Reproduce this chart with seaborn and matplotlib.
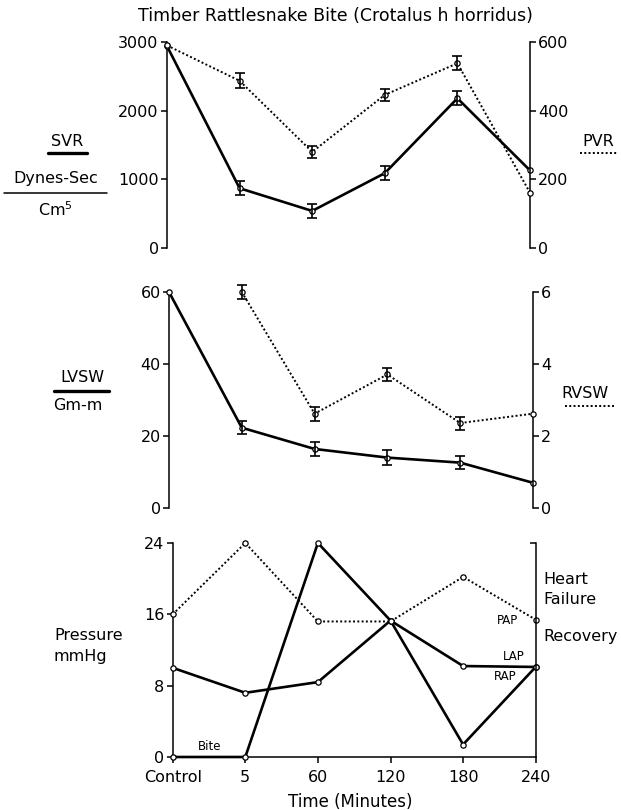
import numpy as np
import pandas as pd
import matplotlib
matplotlib.use("Agg")
import matplotlib.pyplot as plt
import seaborn as sns
from matplotlib.lines import Line2D

# ---------------- data ----------------
time_labels = ["Control", "5", "60", "120", "180", "240"]

svr = [2940, 870, 540, 1090, 2180, 1130]
svr_err = [0, 100, 100, 100, 100, 0]
pvr = [590, 487, 280, 446, 538, 161]
pvr_err = [0, 22, 17, 18, 20, 0]

lvsw = [60, 22.3, 16.4, 14.0, 12.6, 7.0]
lvsw_err = [0, 1.85, 1.85, 2.0, 1.85, 0]
rvsw = [np.nan, 6.0, 2.62, 3.71, 2.36, 2.62]
rvsw_err = [0, 0.19, 0.19, 0.19, 0.18, 0]

pap = [16, 24, 15.2, 15.2, 20.2, 15.4]
lap = [10, 7.2, 8.4, 15.3, 10.2, 10.1]
rap = [0, 0, 24, 15.3, 1.4, 10.1]

svr_ticks = [0, 1000, 2000, 3000]
pvr_ticks = [0, 200, 400, 600]
lvsw_ticks = [0, 20, 40, 60]
rvsw_ticks = [0, 2, 4, 6]
press_ticks = [0, 8, 16, 24]

# ---------------- style ----------------
sns.set_style("ticks")
plt.rcParams["font.family"] = ["DejaVu Sans"]
plt.rcParams["axes.linewidth"] = 1.1
for k in ["text.color", "axes.labelcolor", "xtick.color", "ytick.color", "axes.edgecolor"]:
    plt.rcParams[k] = "black"

W, H = 621, 810
fig = plt.figure(figsize=(W / 100, H / 100), dpi=100)


def fx(px):
    return px / W


def fy(py):
    return 1 - py / H


def make_axes(left, right, top, bottom):
    return fig.add_axes([fx(left), fy(bottom), fx(right) - fx(left), fy(top) - fy(bottom)])


xpos = np.arange(len(time_labels))
SOLID = dict(linewidth=1.9, linestyle="-")
DOT = dict(linewidth=1.4, linestyle=(0, (1, 1.2)))


def draw(ax, vals, errs, style):
    vals = np.asarray(vals, dtype=float)
    df = pd.DataFrame({"t": xpos, "v": vals}).dropna()
    sns.lineplot(data=df, x="t", y="v", ax=ax, color="black", estimator=None,
                 marker="o", markersize=3.8, markerfacecolor="white",
                 markeredgecolor="black", markeredgewidth=0.9,
                 clip_on=False, zorder=4, legend=False, **style)
    if errs is not None:
        errs = np.asarray(errs, dtype=float)
        m = (errs > 0) & ~np.isnan(vals)
        ax.errorbar(xpos[m], vals[m], yerr=errs[m], fmt="none", ecolor="black",
                    elinewidth=1.2, capsize=3.4, capthick=1.2, clip_on=False, zorder=5)


def style_left(ax, ticks, show_bottom=False):
    ax.set_xlim(0, 5)
    ax.set_ylim(ticks[0], ticks[-1])
    ax.set_yticks(ticks)
    ax.set_yticklabels([str(t) for t in ticks], fontsize=11.5)
    ax.spines["top"].set_visible(False)
    ax.spines["right"].set_visible(False)
    ax.spines["bottom"].set_visible(show_bottom)
    ax.tick_params(axis="y", direction="out", length=4, width=1.1, pad=2)
    ax.set_xlabel("")
    ax.set_ylabel("")
    if not show_bottom:
        ax.tick_params(axis="x", bottom=False, labelbottom=False)
    ax.patch.set_alpha(0)


def style_right(ax2, ticks, labels=True):
    ax2.set_ylim(ticks[0], ticks[-1])
    ax2.set_yticks(ticks)
    if labels:
        ax2.set_yticklabels([str(t) for t in ticks], fontsize=11.5)
    ax2.spines["top"].set_visible(False)
    ax2.spines["left"].set_visible(False)
    ax2.spines["bottom"].set_visible(False)
    ax2.tick_params(axis="y", direction="out", length=4, width=1.1, pad=2)
    ax2.set_ylabel("")
    ax2.set_xlabel("")


# ---------------- top panel: SVR / PVR ----------------
ax1 = make_axes(167, 530, 42, 248)
ax1b = ax1.twinx()
draw(ax1, svr, svr_err, SOLID)
draw(ax1b, pvr, pvr_err, DOT)
style_left(ax1, svr_ticks)
style_right(ax1b, pvr_ticks)
ax1b.set_xlim(0, 5)

# ---------------- middle panel: LVSW / RVSW ----------------
ax2 = make_axes(169, 533, 292, 508)
ax2b = ax2.twinx()
draw(ax2, lvsw, lvsw_err, SOLID)
draw(ax2b, rvsw, rvsw_err, DOT)
style_left(ax2, lvsw_ticks)
style_right(ax2b, rvsw_ticks)
ax2b.set_xlim(0, 5)

# ---------------- bottom panel: pressures ----------------
ax3 = make_axes(172.7, 535.7, 543, 757)
draw(ax3, pap, None, DOT)
draw(ax3, lap, None, SOLID)
draw(ax3, rap, None, SOLID)
style_left(ax3, press_ticks, show_bottom=True)
ax3.set_xticks(xpos)
ax3.set_xticklabels(time_labels, fontsize=11.5)
ax3.tick_params(axis="x", direction="out", length=4, width=1.1, pad=5)
ax3b = ax3.twinx()
ax3b.set_ylim(0, 24)
ax3b.set_yticks([24])
ax3b.spines["top"].set_visible(False)
ax3b.spines["left"].set_visible(False)
ax3b.spines["bottom"].set_visible(False)
ax3b.tick_params(axis="y", direction="in", length=4, width=1.1, labelright=False)
ax3b.set_xlim(0, 5)

# ---------------- texts ----------------
fig.text(fx(335), fy(16), "Timber Rattlesnake Bite (Crotalus h horridus)",
         ha="center", va="center", fontsize=12.5)
fig.text(fx(350), fy(802), "Time (Minutes)", ha="center", va="center", fontsize=12)

def label(x, y, s, size=11.5, ha="center"):
    fig.text(fx(x), fy(y), s, ha=ha, va="center", fontsize=size)

def keyline(x0, x1, y, dotted=False, lw=2.4):
    ls = (0, (1, 1.2)) if dotted else "-"
    fig.add_artist(Line2D([fx(x0), fx(x1)], [fy(y), fy(y)], color="black",
                          lw=(1.4 if dotted else lw), linestyle=ls, transform=fig.transFigure))

label(67, 141, "SVR")
keyline(48, 87, 153)
label(56, 179, "Dynes-Sec")
keyline(4, 107, 193, lw=1.1)
label(55, 210, "Cm$^{5}$")
label(598, 141, "PVR")
keyline(580, 618, 153, dotted=True)

label(82, 377, "LVSW")
keyline(54, 109, 391)
label(78, 405, "Gm-m")
label(585, 393, "RVSW")
keyline(565, 615, 406, dotted=True)

label(89, 635, "Pressure")
label(80, 657, "mmHg")
label(543, 579, "Heart", ha="left")
label(543, 600, "Failure", ha="left")
label(543, 636, "Recovery", ha="left")
label(508, 621, "PAP", size=8.5)
label(514, 656, "LAP", size=8.5)
label(505, 677, "RAP", size=8.5)
label(210, 746, "Bite", size=8.5)

fig.savefig("out.png", dpi=100, facecolor="white")
